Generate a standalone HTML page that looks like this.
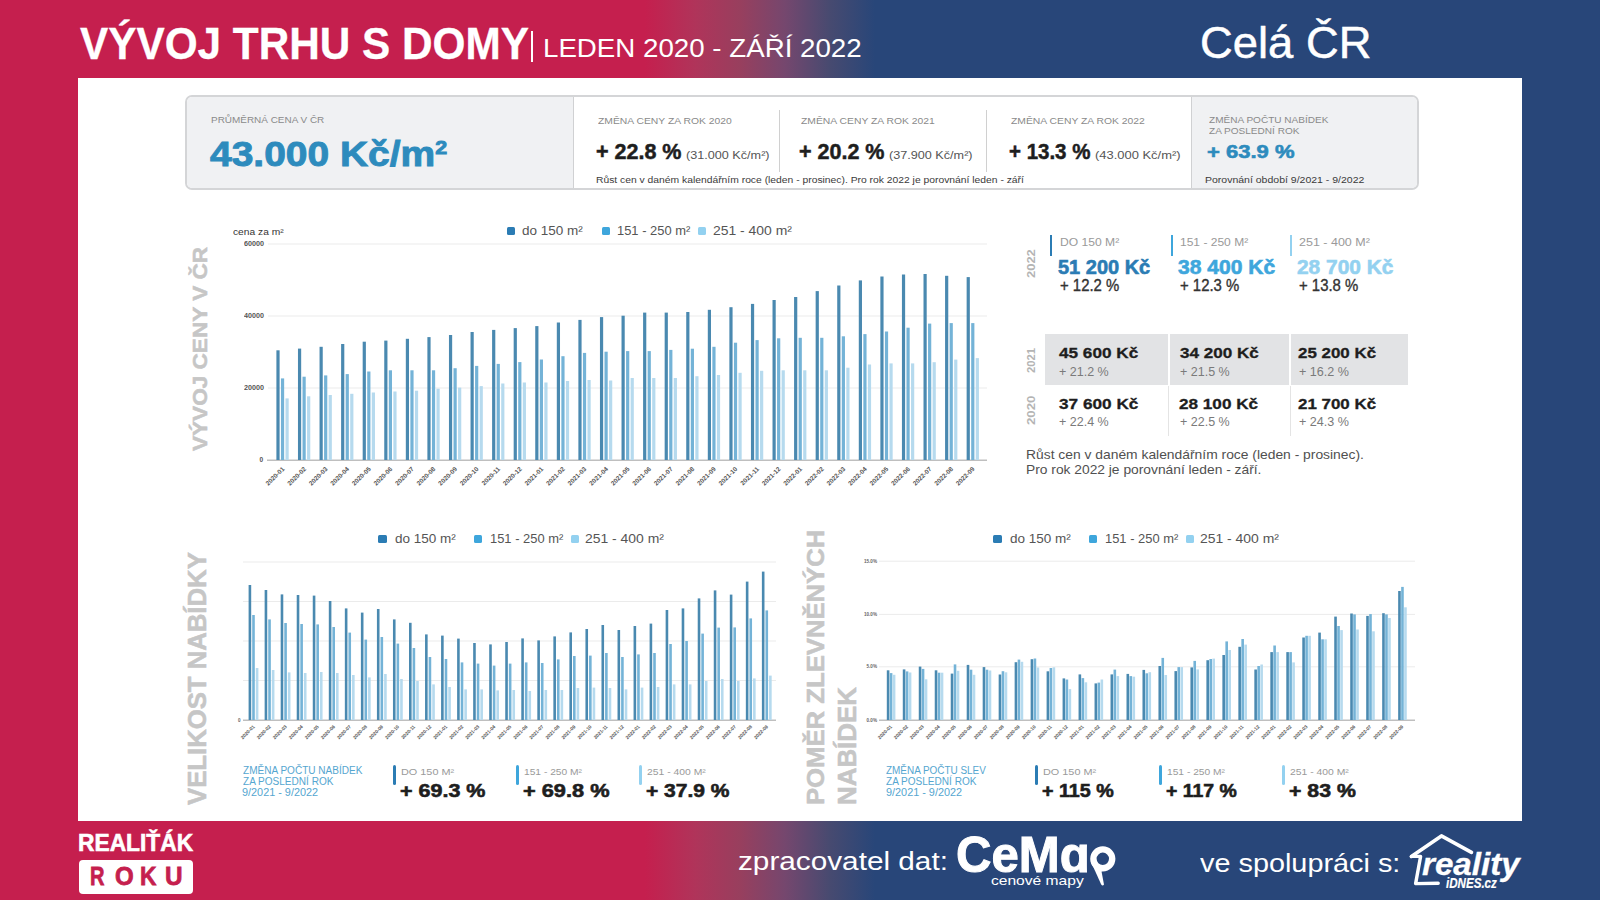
<!DOCTYPE html>
<html><head><meta charset="utf-8"><title>Vývoj trhu s domy</title>
<style>
*{margin:0;padding:0;box-sizing:border-box}
html,body{width:1600px;height:900px;overflow:hidden}
body{font-family:"Liberation Sans", sans-serif;background:linear-gradient(90deg,#c51f4e 0,#c51f4e 645px,#b0345a 695px,#983f5e 740px,#75476e 785px,#474a70 830px,#284679 875px,#284679 100%);position:relative}
.t{position:absolute;white-space:nowrap;line-height:1;transform-origin:0 0}
.rot{transform-origin:0 0}
.sup{font-size:0.55em;vertical-align:0.62em;line-height:0}
.a{position:absolute}
</style></head><body>
<div class="a" style="left:78px;top:78px;width:1444px;height:743px;background:#fff"></div>
<div class="a" style="left:531px;top:30.5px;width:1.6px;height:31.5px;background:#fff"></div>
<div class="a" style="left:185px;top:95.3px;width:1234px;height:94.9px;border:2px solid #d4d5d7;border-radius:7px;background:#fff;overflow:hidden">
  <div class="a" style="left:0;top:0;width:387px;height:100%;background:#f0f1f3;border-right:1.5px solid #d0d1d3"></div>
  <div class="a" style="left:1004px;top:0;right:0;height:100%;background:#f0f1f3;border-left:1.5px solid #d0d1d3"></div>
</div>
<div class="a" style="left:779px;top:110px;width:1.2px;height:62px;background:#d0d0d0"></div>
<div class="a" style="left:985.5px;top:110px;width:1.2px;height:62px;background:#d0d0d0"></div>
<svg width="1600" height="900" style="position:absolute;left:0;top:0" font-family="Liberation Sans, sans-serif"><rect x="268.00" y="243.50" width="719.00" height="1.00" fill="#ebebeb"/><rect x="268.00" y="315.50" width="719.00" height="1.00" fill="#ebebeb"/><rect x="268.00" y="387.50" width="719.00" height="1.00" fill="#ebebeb"/><rect x="267.00" y="459.60" width="720.00" height="1.20" fill="#b0b0b0"/><rect x="276.40" y="350.30" width="3.20" height="109.70" fill="#4a89b0"/><rect x="280.95" y="378.40" width="3.20" height="81.60" fill="#74b3d7"/><rect x="285.50" y="398.40" width="3.20" height="61.60" fill="#b6daee"/><rect x="297.97" y="348.60" width="3.20" height="111.40" fill="#4a89b0"/><rect x="302.52" y="376.70" width="3.20" height="83.30" fill="#74b3d7"/><rect x="307.07" y="396.30" width="3.20" height="63.70" fill="#b6daee"/><rect x="319.54" y="346.80" width="3.20" height="113.20" fill="#4a89b0"/><rect x="324.09" y="375.40" width="3.20" height="84.60" fill="#74b3d7"/><rect x="328.64" y="395.00" width="3.20" height="65.00" fill="#b6daee"/><rect x="341.11" y="344.00" width="3.20" height="116.00" fill="#4a89b0"/><rect x="345.66" y="374.10" width="3.20" height="85.90" fill="#74b3d7"/><rect x="350.21" y="393.80" width="3.20" height="66.20" fill="#b6daee"/><rect x="362.68" y="341.70" width="3.20" height="118.30" fill="#4a89b0"/><rect x="367.23" y="371.50" width="3.20" height="88.50" fill="#74b3d7"/><rect x="371.78" y="392.50" width="3.20" height="67.50" fill="#b6daee"/><rect x="384.25" y="340.60" width="3.20" height="119.40" fill="#4a89b0"/><rect x="388.80" y="370.30" width="3.20" height="89.70" fill="#74b3d7"/><rect x="393.35" y="391.50" width="3.20" height="68.50" fill="#b6daee"/><rect x="405.82" y="338.80" width="3.20" height="121.20" fill="#4a89b0"/><rect x="410.37" y="370.30" width="3.20" height="89.70" fill="#74b3d7"/><rect x="414.92" y="390.70" width="3.20" height="69.30" fill="#b6daee"/><rect x="427.39" y="337.10" width="3.20" height="122.90" fill="#4a89b0"/><rect x="431.94" y="370.30" width="3.20" height="89.70" fill="#74b3d7"/><rect x="436.49" y="388.70" width="3.20" height="71.30" fill="#b6daee"/><rect x="448.96" y="335.00" width="3.20" height="125.00" fill="#4a89b0"/><rect x="453.51" y="368.20" width="3.20" height="91.80" fill="#74b3d7"/><rect x="458.06" y="387.60" width="3.20" height="72.40" fill="#b6daee"/><rect x="470.53" y="332.00" width="3.20" height="128.00" fill="#4a89b0"/><rect x="475.08" y="365.90" width="3.20" height="94.10" fill="#74b3d7"/><rect x="479.63" y="386.10" width="3.20" height="73.90" fill="#b6daee"/><rect x="492.10" y="329.90" width="3.20" height="130.10" fill="#4a89b0"/><rect x="496.65" y="363.90" width="3.20" height="96.10" fill="#74b3d7"/><rect x="501.20" y="383.50" width="3.20" height="76.50" fill="#b6daee"/><rect x="513.67" y="328.10" width="3.20" height="131.90" fill="#4a89b0"/><rect x="518.22" y="362.10" width="3.20" height="97.90" fill="#74b3d7"/><rect x="522.77" y="382.50" width="3.20" height="77.50" fill="#b6daee"/><rect x="535.24" y="326.10" width="3.20" height="133.90" fill="#4a89b0"/><rect x="539.79" y="359.50" width="3.20" height="100.50" fill="#74b3d7"/><rect x="544.34" y="382.50" width="3.20" height="77.50" fill="#b6daee"/><rect x="556.81" y="322.50" width="3.20" height="137.50" fill="#4a89b0"/><rect x="561.36" y="356.20" width="3.20" height="103.80" fill="#74b3d7"/><rect x="565.91" y="381.00" width="3.20" height="79.00" fill="#b6daee"/><rect x="578.38" y="319.90" width="3.20" height="140.10" fill="#4a89b0"/><rect x="582.93" y="352.90" width="3.20" height="107.10" fill="#74b3d7"/><rect x="587.48" y="380.00" width="3.20" height="80.00" fill="#b6daee"/><rect x="599.95" y="317.10" width="3.20" height="142.90" fill="#4a89b0"/><rect x="604.50" y="351.70" width="3.20" height="108.30" fill="#74b3d7"/><rect x="609.05" y="380.50" width="3.20" height="79.50" fill="#b6daee"/><rect x="621.52" y="315.70" width="3.20" height="144.30" fill="#4a89b0"/><rect x="626.07" y="351.10" width="3.20" height="108.90" fill="#74b3d7"/><rect x="630.62" y="378.00" width="3.20" height="82.00" fill="#b6daee"/><rect x="643.09" y="312.60" width="3.20" height="147.40" fill="#4a89b0"/><rect x="647.64" y="351.10" width="3.20" height="108.90" fill="#74b3d7"/><rect x="652.19" y="378.00" width="3.20" height="82.00" fill="#b6daee"/><rect x="664.66" y="312.60" width="3.20" height="147.40" fill="#4a89b0"/><rect x="669.21" y="349.90" width="3.20" height="110.10" fill="#74b3d7"/><rect x="673.76" y="378.00" width="3.20" height="82.00" fill="#b6daee"/><rect x="686.23" y="312.00" width="3.20" height="148.00" fill="#4a89b0"/><rect x="690.78" y="348.70" width="3.20" height="111.30" fill="#74b3d7"/><rect x="695.33" y="376.20" width="3.20" height="83.80" fill="#b6daee"/><rect x="707.80" y="309.80" width="3.20" height="150.20" fill="#4a89b0"/><rect x="712.35" y="346.80" width="3.20" height="113.20" fill="#74b3d7"/><rect x="716.90" y="375.00" width="3.20" height="85.00" fill="#b6daee"/><rect x="729.37" y="307.20" width="3.20" height="152.80" fill="#4a89b0"/><rect x="733.92" y="342.70" width="3.20" height="117.30" fill="#74b3d7"/><rect x="738.47" y="372.80" width="3.20" height="87.20" fill="#b6daee"/><rect x="750.94" y="303.90" width="3.20" height="156.10" fill="#4a89b0"/><rect x="755.49" y="340.10" width="3.20" height="119.90" fill="#74b3d7"/><rect x="760.04" y="370.80" width="3.20" height="89.20" fill="#b6daee"/><rect x="772.51" y="300.00" width="3.20" height="160.00" fill="#4a89b0"/><rect x="777.06" y="338.30" width="3.20" height="121.70" fill="#74b3d7"/><rect x="781.61" y="370.30" width="3.20" height="89.70" fill="#b6daee"/><rect x="794.08" y="297.00" width="3.20" height="163.00" fill="#4a89b0"/><rect x="798.63" y="337.80" width="3.20" height="122.20" fill="#74b3d7"/><rect x="803.18" y="370.30" width="3.20" height="89.70" fill="#b6daee"/><rect x="815.65" y="291.10" width="3.20" height="168.90" fill="#4a89b0"/><rect x="820.20" y="337.80" width="3.20" height="122.20" fill="#74b3d7"/><rect x="824.75" y="370.30" width="3.20" height="89.70" fill="#b6daee"/><rect x="837.22" y="285.50" width="3.20" height="174.50" fill="#4a89b0"/><rect x="841.77" y="336.30" width="3.20" height="123.70" fill="#74b3d7"/><rect x="846.32" y="367.70" width="3.20" height="92.30" fill="#b6daee"/><rect x="858.79" y="280.40" width="3.20" height="179.60" fill="#4a89b0"/><rect x="863.34" y="334.10" width="3.20" height="125.90" fill="#74b3d7"/><rect x="867.89" y="364.50" width="3.20" height="95.50" fill="#b6daee"/><rect x="880.36" y="276.50" width="3.20" height="183.50" fill="#4a89b0"/><rect x="884.91" y="331.50" width="3.20" height="128.50" fill="#74b3d7"/><rect x="889.46" y="363.40" width="3.20" height="96.60" fill="#b6daee"/><rect x="901.93" y="274.50" width="3.20" height="185.50" fill="#4a89b0"/><rect x="906.48" y="327.70" width="3.20" height="132.30" fill="#74b3d7"/><rect x="911.03" y="363.40" width="3.20" height="96.60" fill="#b6daee"/><rect x="923.50" y="274.00" width="3.20" height="186.00" fill="#4a89b0"/><rect x="928.05" y="323.60" width="3.20" height="136.40" fill="#74b3d7"/><rect x="932.60" y="362.20" width="3.20" height="97.80" fill="#b6daee"/><rect x="945.07" y="275.80" width="3.20" height="184.20" fill="#4a89b0"/><rect x="949.62" y="323.10" width="3.20" height="136.90" fill="#74b3d7"/><rect x="954.17" y="359.60" width="3.20" height="100.40" fill="#b6daee"/><rect x="966.64" y="277.10" width="3.20" height="182.90" fill="#4a89b0"/><rect x="971.19" y="323.10" width="3.20" height="136.90" fill="#74b3d7"/><rect x="975.74" y="358.10" width="3.20" height="101.90" fill="#b6daee"/><rect x="243.00" y="561.50" width="533.00" height="1.00" fill="#ebebeb"/><rect x="243.00" y="601.00" width="533.00" height="1.00" fill="#ebebeb"/><rect x="243.00" y="640.50" width="533.00" height="1.00" fill="#ebebeb"/><rect x="243.00" y="680.00" width="533.00" height="1.00" fill="#ebebeb"/><rect x="243.00" y="719.60" width="533.00" height="1.20" fill="#b0b0b0"/><rect x="248.60" y="585.00" width="2.60" height="135.00" fill="#4a89b0"/><rect x="252.20" y="615.00" width="2.60" height="105.00" fill="#74b3d7"/><rect x="255.80" y="668.00" width="2.60" height="52.00" fill="#b6daee"/><rect x="264.64" y="590.00" width="2.60" height="130.00" fill="#4a89b0"/><rect x="268.24" y="619.40" width="2.60" height="100.60" fill="#74b3d7"/><rect x="271.84" y="670.00" width="2.60" height="50.00" fill="#b6daee"/><rect x="280.68" y="594.40" width="2.60" height="125.60" fill="#4a89b0"/><rect x="284.28" y="623.00" width="2.60" height="97.00" fill="#74b3d7"/><rect x="287.88" y="672.40" width="2.60" height="47.60" fill="#b6daee"/><rect x="296.72" y="595.00" width="2.60" height="125.00" fill="#4a89b0"/><rect x="300.32" y="624.00" width="2.60" height="96.00" fill="#74b3d7"/><rect x="303.92" y="673.00" width="2.60" height="47.00" fill="#b6daee"/><rect x="312.76" y="595.60" width="2.60" height="124.40" fill="#4a89b0"/><rect x="316.36" y="624.40" width="2.60" height="95.60" fill="#74b3d7"/><rect x="319.96" y="672.00" width="2.60" height="48.00" fill="#b6daee"/><rect x="328.80" y="601.00" width="2.60" height="119.00" fill="#4a89b0"/><rect x="332.40" y="627.00" width="2.60" height="93.00" fill="#74b3d7"/><rect x="336.00" y="673.00" width="2.60" height="47.00" fill="#b6daee"/><rect x="344.84" y="608.40" width="2.60" height="111.60" fill="#4a89b0"/><rect x="348.44" y="632.60" width="2.60" height="87.40" fill="#74b3d7"/><rect x="352.04" y="675.00" width="2.60" height="45.00" fill="#b6daee"/><rect x="360.88" y="612.60" width="2.60" height="107.40" fill="#4a89b0"/><rect x="364.48" y="639.60" width="2.60" height="80.40" fill="#74b3d7"/><rect x="368.08" y="677.40" width="2.60" height="42.60" fill="#b6daee"/><rect x="376.92" y="609.00" width="2.60" height="111.00" fill="#4a89b0"/><rect x="380.52" y="637.00" width="2.60" height="83.00" fill="#74b3d7"/><rect x="384.12" y="674.00" width="2.60" height="46.00" fill="#b6daee"/><rect x="392.96" y="619.40" width="2.60" height="100.60" fill="#4a89b0"/><rect x="396.56" y="643.60" width="2.60" height="76.40" fill="#74b3d7"/><rect x="400.16" y="679.00" width="2.60" height="41.00" fill="#b6daee"/><rect x="409.00" y="622.80" width="2.60" height="97.20" fill="#4a89b0"/><rect x="412.60" y="648.00" width="2.60" height="72.00" fill="#74b3d7"/><rect x="416.20" y="681.00" width="2.60" height="39.00" fill="#b6daee"/><rect x="425.04" y="634.40" width="2.60" height="85.60" fill="#4a89b0"/><rect x="428.64" y="657.00" width="2.60" height="63.00" fill="#74b3d7"/><rect x="432.24" y="684.40" width="2.60" height="35.60" fill="#b6daee"/><rect x="441.08" y="635.60" width="2.60" height="84.40" fill="#4a89b0"/><rect x="444.68" y="659.00" width="2.60" height="61.00" fill="#74b3d7"/><rect x="448.28" y="687.00" width="2.60" height="33.00" fill="#b6daee"/><rect x="457.12" y="638.60" width="2.60" height="81.40" fill="#4a89b0"/><rect x="460.72" y="662.40" width="2.60" height="57.60" fill="#74b3d7"/><rect x="464.32" y="689.40" width="2.60" height="30.60" fill="#b6daee"/><rect x="473.16" y="643.00" width="2.60" height="77.00" fill="#4a89b0"/><rect x="476.76" y="663.60" width="2.60" height="56.40" fill="#74b3d7"/><rect x="480.36" y="689.40" width="2.60" height="30.60" fill="#b6daee"/><rect x="489.20" y="644.40" width="2.60" height="75.60" fill="#4a89b0"/><rect x="492.80" y="665.60" width="2.60" height="54.40" fill="#74b3d7"/><rect x="496.40" y="690.40" width="2.60" height="29.60" fill="#b6daee"/><rect x="505.24" y="642.00" width="2.60" height="78.00" fill="#4a89b0"/><rect x="508.84" y="663.60" width="2.60" height="56.40" fill="#74b3d7"/><rect x="512.44" y="690.00" width="2.60" height="30.00" fill="#b6daee"/><rect x="521.28" y="638.40" width="2.60" height="81.60" fill="#4a89b0"/><rect x="524.88" y="662.40" width="2.60" height="57.60" fill="#74b3d7"/><rect x="528.48" y="691.00" width="2.60" height="29.00" fill="#b6daee"/><rect x="537.32" y="640.40" width="2.60" height="79.60" fill="#4a89b0"/><rect x="540.92" y="663.00" width="2.60" height="57.00" fill="#74b3d7"/><rect x="544.52" y="690.00" width="2.60" height="30.00" fill="#b6daee"/><rect x="553.36" y="636.40" width="2.60" height="83.60" fill="#4a89b0"/><rect x="556.96" y="659.40" width="2.60" height="60.60" fill="#74b3d7"/><rect x="560.56" y="690.00" width="2.60" height="30.00" fill="#b6daee"/><rect x="569.40" y="632.40" width="2.60" height="87.60" fill="#4a89b0"/><rect x="573.00" y="656.00" width="2.60" height="64.00" fill="#74b3d7"/><rect x="576.60" y="688.00" width="2.60" height="32.00" fill="#b6daee"/><rect x="585.44" y="629.00" width="2.60" height="91.00" fill="#4a89b0"/><rect x="589.04" y="655.60" width="2.60" height="64.40" fill="#74b3d7"/><rect x="592.64" y="687.60" width="2.60" height="32.40" fill="#b6daee"/><rect x="601.48" y="625.00" width="2.60" height="95.00" fill="#4a89b0"/><rect x="605.08" y="653.00" width="2.60" height="67.00" fill="#74b3d7"/><rect x="608.68" y="688.00" width="2.60" height="32.00" fill="#b6daee"/><rect x="617.52" y="630.00" width="2.60" height="90.00" fill="#4a89b0"/><rect x="621.12" y="657.00" width="2.60" height="63.00" fill="#74b3d7"/><rect x="624.72" y="689.40" width="2.60" height="30.60" fill="#b6daee"/><rect x="633.56" y="626.00" width="2.60" height="94.00" fill="#4a89b0"/><rect x="637.16" y="654.40" width="2.60" height="65.60" fill="#74b3d7"/><rect x="640.76" y="687.60" width="2.60" height="32.40" fill="#b6daee"/><rect x="649.60" y="623.60" width="2.60" height="96.40" fill="#4a89b0"/><rect x="653.20" y="653.00" width="2.60" height="67.00" fill="#74b3d7"/><rect x="656.80" y="687.00" width="2.60" height="33.00" fill="#b6daee"/><rect x="665.64" y="610.00" width="2.60" height="110.00" fill="#4a89b0"/><rect x="669.24" y="644.00" width="2.60" height="76.00" fill="#74b3d7"/><rect x="672.84" y="684.40" width="2.60" height="35.60" fill="#b6daee"/><rect x="681.68" y="608.40" width="2.60" height="111.60" fill="#4a89b0"/><rect x="685.28" y="641.00" width="2.60" height="79.00" fill="#74b3d7"/><rect x="688.88" y="684.40" width="2.60" height="35.60" fill="#b6daee"/><rect x="697.72" y="598.40" width="2.60" height="121.60" fill="#4a89b0"/><rect x="701.32" y="633.60" width="2.60" height="86.40" fill="#74b3d7"/><rect x="704.92" y="681.00" width="2.60" height="39.00" fill="#b6daee"/><rect x="713.76" y="590.40" width="2.60" height="129.60" fill="#4a89b0"/><rect x="717.36" y="627.60" width="2.60" height="92.40" fill="#74b3d7"/><rect x="720.96" y="679.00" width="2.60" height="41.00" fill="#b6daee"/><rect x="729.80" y="594.60" width="2.60" height="125.40" fill="#4a89b0"/><rect x="733.40" y="627.40" width="2.60" height="92.60" fill="#74b3d7"/><rect x="737.00" y="681.00" width="2.60" height="39.00" fill="#b6daee"/><rect x="745.84" y="581.60" width="2.60" height="138.40" fill="#4a89b0"/><rect x="749.44" y="618.40" width="2.60" height="101.60" fill="#74b3d7"/><rect x="753.04" y="678.40" width="2.60" height="41.60" fill="#b6daee"/><rect x="761.88" y="571.60" width="2.60" height="148.40" fill="#4a89b0"/><rect x="765.48" y="610.40" width="2.60" height="109.60" fill="#74b3d7"/><rect x="769.08" y="675.60" width="2.60" height="44.40" fill="#b6daee"/><rect x="879.00" y="560.70" width="536.00" height="1.00" fill="#ebebeb"/><rect x="879.00" y="613.90" width="536.00" height="1.00" fill="#ebebeb"/><rect x="879.00" y="666.30" width="536.00" height="1.00" fill="#ebebeb"/><rect x="879.00" y="719.60" width="536.00" height="1.20" fill="#b0b0b0"/><rect x="886.80" y="670.30" width="2.60" height="49.70" fill="#4a89b0"/><rect x="889.80" y="673.10" width="2.60" height="46.90" fill="#74b3d7"/><rect x="892.80" y="674.80" width="2.60" height="45.20" fill="#b6daee"/><rect x="902.78" y="669.40" width="2.60" height="50.60" fill="#4a89b0"/><rect x="905.78" y="671.40" width="2.60" height="48.60" fill="#74b3d7"/><rect x="908.78" y="672.50" width="2.60" height="47.50" fill="#b6daee"/><rect x="918.76" y="666.60" width="2.60" height="53.40" fill="#4a89b0"/><rect x="921.76" y="668.90" width="2.60" height="51.10" fill="#74b3d7"/><rect x="924.76" y="679.30" width="2.60" height="40.70" fill="#b6daee"/><rect x="934.74" y="670.30" width="2.60" height="49.70" fill="#4a89b0"/><rect x="937.74" y="672.70" width="2.60" height="47.30" fill="#74b3d7"/><rect x="940.74" y="672.70" width="2.60" height="47.30" fill="#b6daee"/><rect x="950.72" y="673.60" width="2.60" height="46.40" fill="#4a89b0"/><rect x="953.72" y="664.40" width="2.60" height="55.60" fill="#74b3d7"/><rect x="956.72" y="670.80" width="2.60" height="49.20" fill="#b6daee"/><rect x="966.70" y="664.90" width="2.60" height="55.10" fill="#4a89b0"/><rect x="969.70" y="669.70" width="2.60" height="50.30" fill="#74b3d7"/><rect x="972.70" y="674.80" width="2.60" height="45.20" fill="#b6daee"/><rect x="982.68" y="667.10" width="2.60" height="52.90" fill="#4a89b0"/><rect x="985.68" y="669.70" width="2.60" height="50.30" fill="#74b3d7"/><rect x="988.68" y="670.50" width="2.60" height="49.50" fill="#b6daee"/><rect x="998.66" y="674.50" width="2.60" height="45.50" fill="#4a89b0"/><rect x="1001.66" y="671.20" width="2.60" height="48.80" fill="#74b3d7"/><rect x="1004.66" y="672.30" width="2.60" height="47.70" fill="#b6daee"/><rect x="1014.64" y="662.20" width="2.60" height="57.80" fill="#4a89b0"/><rect x="1017.64" y="659.60" width="2.60" height="60.40" fill="#74b3d7"/><rect x="1020.64" y="661.80" width="2.60" height="58.20" fill="#b6daee"/><rect x="1030.62" y="659.20" width="2.60" height="60.80" fill="#4a89b0"/><rect x="1033.62" y="658.50" width="2.60" height="61.50" fill="#74b3d7"/><rect x="1036.62" y="667.50" width="2.60" height="52.50" fill="#b6daee"/><rect x="1046.60" y="671.30" width="2.60" height="48.70" fill="#4a89b0"/><rect x="1049.60" y="668.00" width="2.60" height="52.00" fill="#74b3d7"/><rect x="1052.60" y="667.30" width="2.60" height="52.70" fill="#b6daee"/><rect x="1062.58" y="678.40" width="2.60" height="41.60" fill="#4a89b0"/><rect x="1065.58" y="679.50" width="2.60" height="40.50" fill="#74b3d7"/><rect x="1068.58" y="689.10" width="2.60" height="30.90" fill="#b6daee"/><rect x="1078.56" y="674.40" width="2.60" height="45.60" fill="#4a89b0"/><rect x="1081.56" y="678.10" width="2.60" height="41.90" fill="#74b3d7"/><rect x="1084.56" y="682.30" width="2.60" height="37.70" fill="#b6daee"/><rect x="1094.54" y="683.40" width="2.60" height="36.60" fill="#4a89b0"/><rect x="1097.54" y="682.60" width="2.60" height="37.40" fill="#74b3d7"/><rect x="1100.54" y="679.50" width="2.60" height="40.50" fill="#b6daee"/><rect x="1110.52" y="674.40" width="2.60" height="45.60" fill="#4a89b0"/><rect x="1113.52" y="669.60" width="2.60" height="50.40" fill="#74b3d7"/><rect x="1116.52" y="676.10" width="2.60" height="43.90" fill="#b6daee"/><rect x="1126.50" y="673.90" width="2.60" height="46.10" fill="#4a89b0"/><rect x="1129.50" y="676.10" width="2.60" height="43.90" fill="#74b3d7"/><rect x="1132.50" y="676.70" width="2.60" height="43.30" fill="#b6daee"/><rect x="1142.48" y="669.90" width="2.60" height="50.10" fill="#4a89b0"/><rect x="1145.48" y="673.30" width="2.60" height="46.70" fill="#74b3d7"/><rect x="1148.48" y="672.20" width="2.60" height="47.80" fill="#b6daee"/><rect x="1158.46" y="666.00" width="2.60" height="54.00" fill="#4a89b0"/><rect x="1161.46" y="657.90" width="2.60" height="62.10" fill="#74b3d7"/><rect x="1164.46" y="675.00" width="2.60" height="45.00" fill="#b6daee"/><rect x="1174.44" y="671.10" width="2.60" height="48.90" fill="#4a89b0"/><rect x="1177.44" y="667.10" width="2.60" height="52.90" fill="#74b3d7"/><rect x="1180.44" y="667.10" width="2.60" height="52.90" fill="#b6daee"/><rect x="1190.42" y="667.40" width="2.60" height="52.60" fill="#4a89b0"/><rect x="1193.42" y="660.90" width="2.60" height="59.10" fill="#74b3d7"/><rect x="1196.42" y="669.40" width="2.60" height="50.60" fill="#b6daee"/><rect x="1206.40" y="660.20" width="2.60" height="59.80" fill="#4a89b0"/><rect x="1209.40" y="659.00" width="2.60" height="61.00" fill="#74b3d7"/><rect x="1212.40" y="658.60" width="2.60" height="61.40" fill="#b6daee"/><rect x="1222.38" y="655.00" width="2.60" height="65.00" fill="#4a89b0"/><rect x="1225.38" y="641.40" width="2.60" height="78.60" fill="#74b3d7"/><rect x="1228.38" y="650.00" width="2.60" height="70.00" fill="#b6daee"/><rect x="1238.36" y="646.80" width="2.60" height="73.20" fill="#4a89b0"/><rect x="1241.36" y="639.00" width="2.60" height="81.00" fill="#74b3d7"/><rect x="1244.36" y="644.60" width="2.60" height="75.40" fill="#b6daee"/><rect x="1254.34" y="669.50" width="2.60" height="50.50" fill="#4a89b0"/><rect x="1257.34" y="666.00" width="2.60" height="54.00" fill="#74b3d7"/><rect x="1260.34" y="664.50" width="2.60" height="55.50" fill="#b6daee"/><rect x="1270.32" y="652.10" width="2.60" height="67.90" fill="#4a89b0"/><rect x="1273.32" y="645.50" width="2.60" height="74.50" fill="#74b3d7"/><rect x="1276.32" y="652.10" width="2.60" height="67.90" fill="#b6daee"/><rect x="1286.30" y="652.10" width="2.60" height="67.90" fill="#4a89b0"/><rect x="1289.30" y="652.10" width="2.60" height="67.90" fill="#74b3d7"/><rect x="1292.30" y="662.40" width="2.60" height="57.60" fill="#b6daee"/><rect x="1302.28" y="637.50" width="2.60" height="82.50" fill="#4a89b0"/><rect x="1305.28" y="635.80" width="2.60" height="84.20" fill="#74b3d7"/><rect x="1308.28" y="635.80" width="2.60" height="84.20" fill="#b6daee"/><rect x="1318.26" y="632.60" width="2.60" height="87.40" fill="#4a89b0"/><rect x="1321.26" y="639.30" width="2.60" height="80.70" fill="#74b3d7"/><rect x="1324.26" y="639.30" width="2.60" height="80.70" fill="#b6daee"/><rect x="1334.24" y="616.60" width="2.60" height="103.40" fill="#4a89b0"/><rect x="1337.24" y="626.00" width="2.60" height="94.00" fill="#74b3d7"/><rect x="1340.24" y="630.10" width="2.60" height="89.90" fill="#b6daee"/><rect x="1350.22" y="613.50" width="2.60" height="106.50" fill="#4a89b0"/><rect x="1353.22" y="614.40" width="2.60" height="105.60" fill="#74b3d7"/><rect x="1356.22" y="629.50" width="2.60" height="90.50" fill="#b6daee"/><rect x="1366.20" y="615.90" width="2.60" height="104.10" fill="#4a89b0"/><rect x="1369.20" y="614.10" width="2.60" height="105.90" fill="#74b3d7"/><rect x="1372.20" y="631.30" width="2.60" height="88.70" fill="#b6daee"/><rect x="1382.18" y="613.20" width="2.60" height="106.80" fill="#4a89b0"/><rect x="1385.18" y="614.40" width="2.60" height="105.60" fill="#74b3d7"/><rect x="1388.18" y="618.00" width="2.60" height="102.00" fill="#b6daee"/><rect x="1398.16" y="591.00" width="2.60" height="129.00" fill="#4a89b0"/><rect x="1401.16" y="586.90" width="2.60" height="133.10" fill="#74b3d7"/><rect x="1404.16" y="607.30" width="2.60" height="112.70" fill="#b6daee"/><text x="0" y="0" transform="translate(284.90,469.5) rotate(-45)" text-anchor="end" font-size="6.4" font-weight="bold" fill="#555">2020-01</text><text x="0" y="0" transform="translate(306.47,469.5) rotate(-45)" text-anchor="end" font-size="6.4" font-weight="bold" fill="#555">2020-02</text><text x="0" y="0" transform="translate(328.04,469.5) rotate(-45)" text-anchor="end" font-size="6.4" font-weight="bold" fill="#555">2020-03</text><text x="0" y="0" transform="translate(349.61,469.5) rotate(-45)" text-anchor="end" font-size="6.4" font-weight="bold" fill="#555">2020-04</text><text x="0" y="0" transform="translate(371.18,469.5) rotate(-45)" text-anchor="end" font-size="6.4" font-weight="bold" fill="#555">2020-05</text><text x="0" y="0" transform="translate(392.75,469.5) rotate(-45)" text-anchor="end" font-size="6.4" font-weight="bold" fill="#555">2020-06</text><text x="0" y="0" transform="translate(414.32,469.5) rotate(-45)" text-anchor="end" font-size="6.4" font-weight="bold" fill="#555">2020-07</text><text x="0" y="0" transform="translate(435.89,469.5) rotate(-45)" text-anchor="end" font-size="6.4" font-weight="bold" fill="#555">2020-08</text><text x="0" y="0" transform="translate(457.46,469.5) rotate(-45)" text-anchor="end" font-size="6.4" font-weight="bold" fill="#555">2020-09</text><text x="0" y="0" transform="translate(479.03,469.5) rotate(-45)" text-anchor="end" font-size="6.4" font-weight="bold" fill="#555">2020-10</text><text x="0" y="0" transform="translate(500.60,469.5) rotate(-45)" text-anchor="end" font-size="6.4" font-weight="bold" fill="#555">2020-11</text><text x="0" y="0" transform="translate(522.17,469.5) rotate(-45)" text-anchor="end" font-size="6.4" font-weight="bold" fill="#555">2020-12</text><text x="0" y="0" transform="translate(543.74,469.5) rotate(-45)" text-anchor="end" font-size="6.4" font-weight="bold" fill="#555">2021-01</text><text x="0" y="0" transform="translate(565.31,469.5) rotate(-45)" text-anchor="end" font-size="6.4" font-weight="bold" fill="#555">2021-02</text><text x="0" y="0" transform="translate(586.88,469.5) rotate(-45)" text-anchor="end" font-size="6.4" font-weight="bold" fill="#555">2021-03</text><text x="0" y="0" transform="translate(608.45,469.5) rotate(-45)" text-anchor="end" font-size="6.4" font-weight="bold" fill="#555">2021-04</text><text x="0" y="0" transform="translate(630.02,469.5) rotate(-45)" text-anchor="end" font-size="6.4" font-weight="bold" fill="#555">2021-05</text><text x="0" y="0" transform="translate(651.59,469.5) rotate(-45)" text-anchor="end" font-size="6.4" font-weight="bold" fill="#555">2021-06</text><text x="0" y="0" transform="translate(673.16,469.5) rotate(-45)" text-anchor="end" font-size="6.4" font-weight="bold" fill="#555">2021-07</text><text x="0" y="0" transform="translate(694.73,469.5) rotate(-45)" text-anchor="end" font-size="6.4" font-weight="bold" fill="#555">2021-08</text><text x="0" y="0" transform="translate(716.30,469.5) rotate(-45)" text-anchor="end" font-size="6.4" font-weight="bold" fill="#555">2021-09</text><text x="0" y="0" transform="translate(737.87,469.5) rotate(-45)" text-anchor="end" font-size="6.4" font-weight="bold" fill="#555">2021-10</text><text x="0" y="0" transform="translate(759.44,469.5) rotate(-45)" text-anchor="end" font-size="6.4" font-weight="bold" fill="#555">2021-11</text><text x="0" y="0" transform="translate(781.01,469.5) rotate(-45)" text-anchor="end" font-size="6.4" font-weight="bold" fill="#555">2021-12</text><text x="0" y="0" transform="translate(802.58,469.5) rotate(-45)" text-anchor="end" font-size="6.4" font-weight="bold" fill="#555">2022-01</text><text x="0" y="0" transform="translate(824.15,469.5) rotate(-45)" text-anchor="end" font-size="6.4" font-weight="bold" fill="#555">2022-02</text><text x="0" y="0" transform="translate(845.72,469.5) rotate(-45)" text-anchor="end" font-size="6.4" font-weight="bold" fill="#555">2022-03</text><text x="0" y="0" transform="translate(867.29,469.5) rotate(-45)" text-anchor="end" font-size="6.4" font-weight="bold" fill="#555">2022-04</text><text x="0" y="0" transform="translate(888.86,469.5) rotate(-45)" text-anchor="end" font-size="6.4" font-weight="bold" fill="#555">2022-05</text><text x="0" y="0" transform="translate(910.43,469.5) rotate(-45)" text-anchor="end" font-size="6.4" font-weight="bold" fill="#555">2022-06</text><text x="0" y="0" transform="translate(932.00,469.5) rotate(-45)" text-anchor="end" font-size="6.4" font-weight="bold" fill="#555">2022-07</text><text x="0" y="0" transform="translate(953.57,469.5) rotate(-45)" text-anchor="end" font-size="6.4" font-weight="bold" fill="#555">2022-08</text><text x="0" y="0" transform="translate(975.14,469.5) rotate(-45)" text-anchor="end" font-size="6.4" font-weight="bold" fill="#555">2022-09</text><text x="0" y="0" transform="translate(255.10,727) rotate(-45)" text-anchor="end" font-size="4.8" font-weight="bold" fill="#555">2020-01</text><text x="0" y="0" transform="translate(271.14,727) rotate(-45)" text-anchor="end" font-size="4.8" font-weight="bold" fill="#555">2020-02</text><text x="0" y="0" transform="translate(287.18,727) rotate(-45)" text-anchor="end" font-size="4.8" font-weight="bold" fill="#555">2020-03</text><text x="0" y="0" transform="translate(303.22,727) rotate(-45)" text-anchor="end" font-size="4.8" font-weight="bold" fill="#555">2020-04</text><text x="0" y="0" transform="translate(319.26,727) rotate(-45)" text-anchor="end" font-size="4.8" font-weight="bold" fill="#555">2020-05</text><text x="0" y="0" transform="translate(335.30,727) rotate(-45)" text-anchor="end" font-size="4.8" font-weight="bold" fill="#555">2020-06</text><text x="0" y="0" transform="translate(351.34,727) rotate(-45)" text-anchor="end" font-size="4.8" font-weight="bold" fill="#555">2020-07</text><text x="0" y="0" transform="translate(367.38,727) rotate(-45)" text-anchor="end" font-size="4.8" font-weight="bold" fill="#555">2020-08</text><text x="0" y="0" transform="translate(383.42,727) rotate(-45)" text-anchor="end" font-size="4.8" font-weight="bold" fill="#555">2020-09</text><text x="0" y="0" transform="translate(399.46,727) rotate(-45)" text-anchor="end" font-size="4.8" font-weight="bold" fill="#555">2020-10</text><text x="0" y="0" transform="translate(415.50,727) rotate(-45)" text-anchor="end" font-size="4.8" font-weight="bold" fill="#555">2020-11</text><text x="0" y="0" transform="translate(431.54,727) rotate(-45)" text-anchor="end" font-size="4.8" font-weight="bold" fill="#555">2020-12</text><text x="0" y="0" transform="translate(447.58,727) rotate(-45)" text-anchor="end" font-size="4.8" font-weight="bold" fill="#555">2021-01</text><text x="0" y="0" transform="translate(463.62,727) rotate(-45)" text-anchor="end" font-size="4.8" font-weight="bold" fill="#555">2021-02</text><text x="0" y="0" transform="translate(479.66,727) rotate(-45)" text-anchor="end" font-size="4.8" font-weight="bold" fill="#555">2021-03</text><text x="0" y="0" transform="translate(495.70,727) rotate(-45)" text-anchor="end" font-size="4.8" font-weight="bold" fill="#555">2021-04</text><text x="0" y="0" transform="translate(511.74,727) rotate(-45)" text-anchor="end" font-size="4.8" font-weight="bold" fill="#555">2021-05</text><text x="0" y="0" transform="translate(527.78,727) rotate(-45)" text-anchor="end" font-size="4.8" font-weight="bold" fill="#555">2021-06</text><text x="0" y="0" transform="translate(543.82,727) rotate(-45)" text-anchor="end" font-size="4.8" font-weight="bold" fill="#555">2021-07</text><text x="0" y="0" transform="translate(559.86,727) rotate(-45)" text-anchor="end" font-size="4.8" font-weight="bold" fill="#555">2021-08</text><text x="0" y="0" transform="translate(575.90,727) rotate(-45)" text-anchor="end" font-size="4.8" font-weight="bold" fill="#555">2021-09</text><text x="0" y="0" transform="translate(591.94,727) rotate(-45)" text-anchor="end" font-size="4.8" font-weight="bold" fill="#555">2021-10</text><text x="0" y="0" transform="translate(607.98,727) rotate(-45)" text-anchor="end" font-size="4.8" font-weight="bold" fill="#555">2021-11</text><text x="0" y="0" transform="translate(624.02,727) rotate(-45)" text-anchor="end" font-size="4.8" font-weight="bold" fill="#555">2021-12</text><text x="0" y="0" transform="translate(640.06,727) rotate(-45)" text-anchor="end" font-size="4.8" font-weight="bold" fill="#555">2022-01</text><text x="0" y="0" transform="translate(656.10,727) rotate(-45)" text-anchor="end" font-size="4.8" font-weight="bold" fill="#555">2022-02</text><text x="0" y="0" transform="translate(672.14,727) rotate(-45)" text-anchor="end" font-size="4.8" font-weight="bold" fill="#555">2022-03</text><text x="0" y="0" transform="translate(688.18,727) rotate(-45)" text-anchor="end" font-size="4.8" font-weight="bold" fill="#555">2022-04</text><text x="0" y="0" transform="translate(704.22,727) rotate(-45)" text-anchor="end" font-size="4.8" font-weight="bold" fill="#555">2022-05</text><text x="0" y="0" transform="translate(720.26,727) rotate(-45)" text-anchor="end" font-size="4.8" font-weight="bold" fill="#555">2022-06</text><text x="0" y="0" transform="translate(736.30,727) rotate(-45)" text-anchor="end" font-size="4.8" font-weight="bold" fill="#555">2022-07</text><text x="0" y="0" transform="translate(752.34,727) rotate(-45)" text-anchor="end" font-size="4.8" font-weight="bold" fill="#555">2022-08</text><text x="0" y="0" transform="translate(768.38,727) rotate(-45)" text-anchor="end" font-size="4.8" font-weight="bold" fill="#555">2022-09</text><text x="0" y="0" transform="translate(892.30,727) rotate(-45)" text-anchor="end" font-size="4.8" font-weight="bold" fill="#555">2020-01</text><text x="0" y="0" transform="translate(908.28,727) rotate(-45)" text-anchor="end" font-size="4.8" font-weight="bold" fill="#555">2020-02</text><text x="0" y="0" transform="translate(924.26,727) rotate(-45)" text-anchor="end" font-size="4.8" font-weight="bold" fill="#555">2020-03</text><text x="0" y="0" transform="translate(940.24,727) rotate(-45)" text-anchor="end" font-size="4.8" font-weight="bold" fill="#555">2020-04</text><text x="0" y="0" transform="translate(956.22,727) rotate(-45)" text-anchor="end" font-size="4.8" font-weight="bold" fill="#555">2020-05</text><text x="0" y="0" transform="translate(972.20,727) rotate(-45)" text-anchor="end" font-size="4.8" font-weight="bold" fill="#555">2020-06</text><text x="0" y="0" transform="translate(988.18,727) rotate(-45)" text-anchor="end" font-size="4.8" font-weight="bold" fill="#555">2020-07</text><text x="0" y="0" transform="translate(1004.16,727) rotate(-45)" text-anchor="end" font-size="4.8" font-weight="bold" fill="#555">2020-08</text><text x="0" y="0" transform="translate(1020.14,727) rotate(-45)" text-anchor="end" font-size="4.8" font-weight="bold" fill="#555">2020-09</text><text x="0" y="0" transform="translate(1036.12,727) rotate(-45)" text-anchor="end" font-size="4.8" font-weight="bold" fill="#555">2020-10</text><text x="0" y="0" transform="translate(1052.10,727) rotate(-45)" text-anchor="end" font-size="4.8" font-weight="bold" fill="#555">2020-11</text><text x="0" y="0" transform="translate(1068.08,727) rotate(-45)" text-anchor="end" font-size="4.8" font-weight="bold" fill="#555">2020-12</text><text x="0" y="0" transform="translate(1084.06,727) rotate(-45)" text-anchor="end" font-size="4.8" font-weight="bold" fill="#555">2021-01</text><text x="0" y="0" transform="translate(1100.04,727) rotate(-45)" text-anchor="end" font-size="4.8" font-weight="bold" fill="#555">2021-02</text><text x="0" y="0" transform="translate(1116.02,727) rotate(-45)" text-anchor="end" font-size="4.8" font-weight="bold" fill="#555">2021-03</text><text x="0" y="0" transform="translate(1132.00,727) rotate(-45)" text-anchor="end" font-size="4.8" font-weight="bold" fill="#555">2021-04</text><text x="0" y="0" transform="translate(1147.98,727) rotate(-45)" text-anchor="end" font-size="4.8" font-weight="bold" fill="#555">2021-05</text><text x="0" y="0" transform="translate(1163.96,727) rotate(-45)" text-anchor="end" font-size="4.8" font-weight="bold" fill="#555">2021-06</text><text x="0" y="0" transform="translate(1179.94,727) rotate(-45)" text-anchor="end" font-size="4.8" font-weight="bold" fill="#555">2021-07</text><text x="0" y="0" transform="translate(1195.92,727) rotate(-45)" text-anchor="end" font-size="4.8" font-weight="bold" fill="#555">2021-08</text><text x="0" y="0" transform="translate(1211.90,727) rotate(-45)" text-anchor="end" font-size="4.8" font-weight="bold" fill="#555">2021-09</text><text x="0" y="0" transform="translate(1227.88,727) rotate(-45)" text-anchor="end" font-size="4.8" font-weight="bold" fill="#555">2021-10</text><text x="0" y="0" transform="translate(1243.86,727) rotate(-45)" text-anchor="end" font-size="4.8" font-weight="bold" fill="#555">2021-11</text><text x="0" y="0" transform="translate(1259.84,727) rotate(-45)" text-anchor="end" font-size="4.8" font-weight="bold" fill="#555">2021-12</text><text x="0" y="0" transform="translate(1275.82,727) rotate(-45)" text-anchor="end" font-size="4.8" font-weight="bold" fill="#555">2022-01</text><text x="0" y="0" transform="translate(1291.80,727) rotate(-45)" text-anchor="end" font-size="4.8" font-weight="bold" fill="#555">2022-02</text><text x="0" y="0" transform="translate(1307.78,727) rotate(-45)" text-anchor="end" font-size="4.8" font-weight="bold" fill="#555">2022-03</text><text x="0" y="0" transform="translate(1323.76,727) rotate(-45)" text-anchor="end" font-size="4.8" font-weight="bold" fill="#555">2022-04</text><text x="0" y="0" transform="translate(1339.74,727) rotate(-45)" text-anchor="end" font-size="4.8" font-weight="bold" fill="#555">2022-05</text><text x="0" y="0" transform="translate(1355.72,727) rotate(-45)" text-anchor="end" font-size="4.8" font-weight="bold" fill="#555">2022-06</text><text x="0" y="0" transform="translate(1371.70,727) rotate(-45)" text-anchor="end" font-size="4.8" font-weight="bold" fill="#555">2022-07</text><text x="0" y="0" transform="translate(1387.68,727) rotate(-45)" text-anchor="end" font-size="4.8" font-weight="bold" fill="#555">2022-08</text><text x="0" y="0" transform="translate(1403.66,727) rotate(-45)" text-anchor="end" font-size="4.8" font-weight="bold" fill="#555">2022-09</text><text x="240.5" y="721.6" text-anchor="end" font-size="4.6" font-weight="bold" fill="#666">0</text><text x="877" y="562.8000000000001" text-anchor="end" font-size="4.6" font-weight="bold" fill="#666">15.0%</text><text x="877" y="616.0" text-anchor="end" font-size="4.6" font-weight="bold" fill="#666">10.0%</text><text x="877" y="668.4" text-anchor="end" font-size="4.6" font-weight="bold" fill="#666">5.0%</text><text x="877" y="721.6" text-anchor="end" font-size="4.6" font-weight="bold" fill="#666">0.0%</text></svg>
<!-- stats block decorations -->
<div class="a" style="left:1050.3px;top:235px;width:2.2px;height:21px;background:#2b7cb4"></div>
<div class="a" style="left:1171px;top:235px;width:2.2px;height:21px;background:#3ea6dc"></div>
<div class="a" style="left:1290.3px;top:235px;width:2.2px;height:21px;background:#93d1f0"></div>
<div class="a" style="left:1044.5px;top:333.8px;width:363px;height:51.7px;background:#e2e3e5"></div>
<div class="a" style="left:1167.8px;top:333.8px;width:2px;height:51.7px;background:#fff"></div>
<div class="a" style="left:1289px;top:333.8px;width:2px;height:51.7px;background:#fff"></div>
<div class="a" style="left:1168.3px;top:385.5px;width:1px;height:50px;background:#e4e4e4"></div>
<div class="a" style="left:1289.5px;top:385.5px;width:1px;height:50px;background:#e4e4e4"></div>
<!-- legends squares -->
<div class="a" style="left:506.6px;top:226.8px;width:8.4px;height:8px;border-radius:1.5px;background:#2b7cb4"></div><div class="a" style="left:602px;top:226.8px;width:8.4px;height:8px;border-radius:1.5px;background:#3ea6dc"></div><div class="a" style="left:698px;top:226.8px;width:8.4px;height:8px;border-radius:1.5px;background:#93d1f0"></div><div class="a" style="left:378.4px;top:535px;width:8.4px;height:8px;border-radius:1.5px;background:#2b7cb4"></div><div class="a" style="left:474px;top:535px;width:8.4px;height:8px;border-radius:1.5px;background:#3ea6dc"></div><div class="a" style="left:570.7px;top:535px;width:8.4px;height:8px;border-radius:1.5px;background:#93d1f0"></div><div class="a" style="left:993.4px;top:535px;width:8.4px;height:8px;border-radius:1.5px;background:#2b7cb4"></div><div class="a" style="left:1089px;top:535px;width:8.4px;height:8px;border-radius:1.5px;background:#3ea6dc"></div><div class="a" style="left:1185.7px;top:535px;width:8.4px;height:8px;border-radius:1.5px;background:#93d1f0"></div>
<!-- bottom stats bars -->
<div class="a" style="left:392.9px;top:765.3px;width:3px;height:19.5px;border-radius:1.5px;background:#2b7cb4"></div><div class="a" style="left:515.8px;top:765.3px;width:3px;height:19.5px;border-radius:1.5px;background:#3ea6dc"></div><div class="a" style="left:639.3px;top:765.3px;width:3px;height:19.5px;border-radius:1.5px;background:#93d1f0"></div><div class="a" style="left:1035px;top:765.3px;width:3px;height:19.5px;border-radius:1.5px;background:#2b7cb4"></div><div class="a" style="left:1158.7px;top:765.3px;width:3px;height:19.5px;border-radius:1.5px;background:#3ea6dc"></div><div class="a" style="left:1282px;top:765.3px;width:3px;height:19.5px;border-radius:1.5px;background:#93d1f0"></div>
<!-- footer -->
<div class="a" style="left:79px;top:859.7px;width:114px;height:34.3px;background:#fff;border-radius:4px"></div>
<div id="title" class="t" style="left:80.31px;top:21.68px;font-size:44.91px;color:#fff;font-weight:bold;-webkit-text-stroke:0.3px currentColor;transform:scaleX(0.9420);">VÝVOJ TRHU S DOMY</div>
<div id="sub" class="t" style="left:542.73px;top:35.84px;font-size:25.58px;color:#fff;transform:scaleX(1.0827);">LEDEN 2020 - ZÁŘÍ 2022</div>
<div id="cela" class="t" style="left:1199.70px;top:20.94px;font-size:43.90px;color:#fff;-webkit-text-stroke:0.5px currentColor;transform:scaleX(1.0335);">Celá ČR</div>
<div id="pc" class="t" style="left:211.18px;top:116.05px;font-size:9.16px;color:#8a8a8a;transform:scaleX(1.0861);">PRŮMĚRNÁ CENA V ČR</div>
<div id="big" class="t" style="left:210.41px;top:137.01px;font-size:34.59px;color:#2d8bbd;font-weight:bold;-webkit-text-stroke:0.9px currentColor;transform:scaleX(1.1266);">43.000 Kč/m<span class="sup">2</span></div>
<div id="zc0" class="t" style="left:597.67px;top:115.88px;font-size:9.59px;color:#8a8a8a;transform:scaleX(1.0797);">ZMĚNA CENY ZA ROK 2020</div>
<div id="pc0" class="t" style="left:596.10px;top:140.63px;font-size:21.22px;color:#1e1e1e;font-weight:bold;-webkit-text-stroke:0.5px currentColor;transform:scaleX(1.0132);">+ 22.8 %</div>
<div id="pp0" class="t" style="left:686.22px;top:149.71px;font-size:10.50px;color:#555;transform:scaleX(1.2032);">(31.000 Kč/m²)</div>
<div id="zc1" class="t" style="left:800.67px;top:115.88px;font-size:9.59px;color:#8a8a8a;transform:scaleX(1.0805);">ZMĚNA CENY ZA ROK 2021</div>
<div id="pc1" class="t" style="left:799.10px;top:140.63px;font-size:21.22px;color:#1e1e1e;font-weight:bold;-webkit-text-stroke:0.5px currentColor;transform:scaleX(1.0132);">+ 20.2 %</div>
<div id="pp1" class="t" style="left:889.22px;top:149.71px;font-size:10.50px;color:#555;transform:scaleX(1.2032);">(37.900 Kč/m²)</div>
<div id="zc2" class="t" style="left:1010.67px;top:115.88px;font-size:9.59px;color:#8a8a8a;transform:scaleX(1.0807);">ZMĚNA CENY ZA ROK 2022</div>
<div id="pc2" class="t" style="left:1009.14px;top:140.63px;font-size:21.22px;color:#1e1e1e;font-weight:bold;-webkit-text-stroke:0.5px currentColor;transform:scaleX(0.9649);">+ 13.3 %</div>
<div id="pp2" class="t" style="left:1095.20px;top:149.71px;font-size:10.50px;color:#555;transform:scaleX(1.2326);">(43.000 Kč/m²)</div>
<div id="note1" class="t" style="left:596.15px;top:176.41px;font-size:9.20px;color:#3a3a3a;transform:scaleX(1.1232);">Růst cen v daném kalendářním roce (leden - prosinec). Pro rok 2022 je porovnání leden - září</div>
<div id="zp1" class="t" style="left:1209.38px;top:116.05px;font-size:9.16px;color:#8a8a8a;transform:scaleX(1.0970);">ZMĚNA POČTU NABÍDEK</div>
<div id="zp2" class="t" style="left:1209.38px;top:127.29px;font-size:8.87px;color:#8a8a8a;transform:scaleX(1.1337);">ZA POSLEDNÍ ROK</div>
<div id="p639" class="t" style="left:1207.08px;top:142.18px;font-size:19.04px;color:#2d8bbd;font-weight:bold;-webkit-text-stroke:0.6px currentColor;transform:scaleX(1.1566);">+ 63.9 %</div>
<div id="porov" class="t" style="left:1205.14px;top:176.41px;font-size:9.20px;color:#3a3a3a;transform:scaleX(1.1428);">Porovnání období 9/2021 - 9/2022</div>
<div id="cena" class="t" style="left:233.36px;top:228.56px;font-size:8.20px;color:#333;transform:scaleX(1.2501);">cena za m²</div>
<div id="y60000" class="t" style="left:244.04px;top:240.81px;font-size:6.60px;color:#555;font-weight:bold;transform:scaleX(1.0936);">60000</div>
<div id="y40000" class="t" style="left:244.19px;top:312.81px;font-size:6.60px;color:#555;font-weight:bold;transform:scaleX(1.0850);">40000</div>
<div id="y20000" class="t" style="left:244.05px;top:384.81px;font-size:6.60px;color:#555;font-weight:bold;transform:scaleX(1.0928);">20000</div>
<div id="y0" class="t" style="left:259.50px;top:456.81px;font-size:6.60px;color:#555;font-weight:bold;">0</div>
<div id="lg1_0" class="t" style="left:521.93px;top:224.80px;font-size:12.40px;color:#555;transform:scaleX(1.0901);">do 150 m²</div>
<div id="lg1_1" class="t" style="left:617.02px;top:224.80px;font-size:12.40px;color:#555;transform:scaleX(1.0424);">151 - 250 m²</div>
<div id="lg1_2" class="t" style="left:713.30px;top:224.80px;font-size:12.40px;color:#555;transform:scaleX(1.1241);">251 - 400 m²</div>
<div id="sl0" class="t" style="left:1059.51px;top:237.23px;font-size:10.60px;color:#9a9a9a;transform:scaleX(1.1431);">DO 150 M²</div>
<div id="sv0" class="t" style="left:1058.14px;top:256.82px;font-size:20.06px;color:#2b7cb4;font-weight:bold;-webkit-text-stroke:0.6px currentColor;transform:scaleX(0.9966);">51 200 Kč</div>
<div id="sp0" class="t" style="left:1059.77px;top:278.01px;font-size:15.70px;color:#333;-webkit-text-stroke:0.35px currentColor;transform:scaleX(0.9503);">+ 12.2 %</div>
<div id="sl1" class="t" style="left:1180.08px;top:237.23px;font-size:10.60px;color:#9a9a9a;transform:scaleX(1.1346);">151 - 250 M²</div>
<div id="sv1" class="t" style="left:1178.27px;top:256.82px;font-size:20.06px;color:#3ea6dc;font-weight:bold;-webkit-text-stroke:0.6px currentColor;transform:scaleX(1.0496);">38 400 Kč</div>
<div id="sp1" class="t" style="left:1180.27px;top:278.01px;font-size:15.70px;color:#333;-webkit-text-stroke:0.35px currentColor;transform:scaleX(0.9503);">+ 12.3 %</div>
<div id="sl2" class="t" style="left:1299.37px;top:237.23px;font-size:10.60px;color:#9a9a9a;transform:scaleX(1.1799);">251 - 400 M²</div>
<div id="sv2" class="t" style="left:1296.78px;top:256.82px;font-size:20.06px;color:#93d1f0;font-weight:bold;-webkit-text-stroke:0.6px currentColor;transform:scaleX(1.0413);">28 700 Kč</div>
<div id="sp2" class="t" style="left:1299.27px;top:278.01px;font-size:15.70px;color:#333;-webkit-text-stroke:0.35px currentColor;transform:scaleX(0.9503);">+ 13.8 %</div>
<div id="rv00" class="t" style="left:1059.24px;top:345.69px;font-size:14.53px;color:#1e1e1e;font-weight:bold;-webkit-text-stroke:0.3px currentColor;transform:scaleX(1.1830);">45 600 Kč</div>
<div id="rp00" class="t" style="left:1059.39px;top:364.86px;font-size:13.52px;color:#7a7a7a;transform:scaleX(0.9260);">+ 21.2 %</div>
<div id="rv01" class="t" style="left:1179.61px;top:345.69px;font-size:14.53px;color:#1e1e1e;font-weight:bold;-webkit-text-stroke:0.3px currentColor;transform:scaleX(1.1775);">34 200 Kč</div>
<div id="rp01" class="t" style="left:1179.89px;top:364.86px;font-size:13.52px;color:#7a7a7a;transform:scaleX(0.9260);">+ 21.5 %</div>
<div id="rv02" class="t" style="left:1298.16px;top:345.69px;font-size:14.53px;color:#1e1e1e;font-weight:bold;-webkit-text-stroke:0.3px currentColor;transform:scaleX(1.1654);">25 200 Kč</div>
<div id="rp02" class="t" style="left:1298.64px;top:364.86px;font-size:13.52px;color:#7a7a7a;transform:scaleX(0.9317);">+ 16.2 %</div>
<div id="rv10" class="t" style="left:1059.10px;top:397.19px;font-size:14.53px;color:#1e1e1e;font-weight:bold;-webkit-text-stroke:0.3px currentColor;transform:scaleX(1.1851);">37 600 Kč</div>
<div id="rp10" class="t" style="left:1059.39px;top:414.86px;font-size:13.52px;color:#7a7a7a;transform:scaleX(0.9260);">+ 22.4 %</div>
<div id="rv11" class="t" style="left:1179.41px;top:397.19px;font-size:14.53px;color:#1e1e1e;font-weight:bold;-webkit-text-stroke:0.3px currentColor;transform:scaleX(1.1806);">28 100 Kč</div>
<div id="rp11" class="t" style="left:1179.89px;top:414.86px;font-size:13.52px;color:#7a7a7a;transform:scaleX(0.9260);">+ 22.5 %</div>
<div id="rv12" class="t" style="left:1298.16px;top:397.19px;font-size:14.53px;color:#1e1e1e;font-weight:bold;-webkit-text-stroke:0.3px currentColor;transform:scaleX(1.1654);">21 700 Kč</div>
<div id="rp12" class="t" style="left:1298.64px;top:414.86px;font-size:13.52px;color:#7a7a7a;transform:scaleX(0.9317);">+ 24.3 %</div>
<div id="fn1" class="t" style="left:1025.86px;top:449.17px;font-size:12.79px;color:#505050;transform:scaleX(1.0835);">Růst cen v daném kalendářním roce (leden - prosinec).</div>
<div id="fn2" class="t" style="left:1025.87px;top:464.17px;font-size:12.79px;color:#505050;transform:scaleX(1.0792);">Pro rok 2022 je porovnání leden - září.</div>
<div id="lgA0" class="t" style="left:394.73px;top:532.50px;font-size:12.40px;color:#555;transform:scaleX(1.0901);">do 150 m²</div>
<div id="lgA1" class="t" style="left:490.02px;top:532.50px;font-size:12.40px;color:#555;transform:scaleX(1.0424);">151 - 250 m²</div>
<div id="lgA2" class="t" style="left:585.00px;top:532.50px;font-size:12.40px;color:#555;transform:scaleX(1.1241);">251 - 400 m²</div>
<div id="lgB0" class="t" style="left:1009.73px;top:532.50px;font-size:12.40px;color:#555;transform:scaleX(1.0901);">do 150 m²</div>
<div id="lgB1" class="t" style="left:1105.02px;top:532.50px;font-size:12.40px;color:#555;transform:scaleX(1.0424);">151 - 250 m²</div>
<div id="lgB2" class="t" style="left:1200.00px;top:532.50px;font-size:12.40px;color:#555;transform:scaleX(1.1241);">251 - 400 m²</div>
<div id="bsAl1" class="t" style="left:242.68px;top:766.13px;font-size:10.00px;color:#55a6d0;transform:scaleX(1.0044);">ZMĚNA POČTU NABÍDEK</div>
<div id="bsAl2" class="t" style="left:242.68px;top:777.43px;font-size:10.00px;color:#55a6d0;transform:scaleX(1.0044);">ZA POSLEDNÍ ROK</div>
<div id="bsAl3" class="t" style="left:242.49px;top:787.83px;font-size:10.00px;color:#55a6d0;transform:scaleX(1.0855);">9/2021 - 9/2022</div>
<div id="bsBl1" class="t" style="left:886.18px;top:766.13px;font-size:10.00px;color:#55a6d0;transform:scaleX(0.9928);">ZMĚNA POČTU SLEV</div>
<div id="bsBl2" class="t" style="left:886.18px;top:777.43px;font-size:10.00px;color:#55a6d0;transform:scaleX(1.0044);">ZA POSLEDNÍ ROK</div>
<div id="bsBl3" class="t" style="left:885.99px;top:787.83px;font-size:10.00px;color:#55a6d0;transform:scaleX(1.0855);">9/2021 - 9/2022</div>
<div id="bsAd0" class="t" style="left:401.11px;top:768.12px;font-size:8.60px;color:#9a9a9a;transform:scaleX(1.2633);">DO 150 M²</div>
<div id="bsAn0" class="t" style="left:399.90px;top:781.53px;font-size:18.75px;color:#1e1e1e;font-weight:bold;-webkit-text-stroke:0.6px currentColor;transform:scaleX(1.1465);">+ 69.3 %</div>
<div id="bsAd1" class="t" style="left:524.22px;top:768.12px;font-size:8.60px;color:#9a9a9a;transform:scaleX(1.1896);">151 - 250 M²</div>
<div id="bsAn1" class="t" style="left:522.89px;top:781.53px;font-size:18.75px;color:#1e1e1e;font-weight:bold;-webkit-text-stroke:0.6px currentColor;transform:scaleX(1.1602);">+ 69.8 %</div>
<div id="bsAd2" class="t" style="left:647.28px;top:768.12px;font-size:8.60px;color:#9a9a9a;transform:scaleX(1.2049);">251 - 400 M²</div>
<div id="bsAn2" class="t" style="left:645.72px;top:781.53px;font-size:18.75px;color:#1e1e1e;font-weight:bold;-webkit-text-stroke:0.6px currentColor;transform:scaleX(1.1192);">+ 37.9 %</div>
<div id="bsBd0" class="t" style="left:1043.11px;top:768.12px;font-size:8.60px;color:#9a9a9a;transform:scaleX(1.2633);">DO 150 M²</div>
<div id="bsBn0" class="t" style="left:1042.17px;top:781.53px;font-size:18.75px;color:#1e1e1e;font-weight:bold;-webkit-text-stroke:0.6px currentColor;transform:scaleX(1.0505);">+ 115 %</div>
<div id="bsBd1" class="t" style="left:1166.82px;top:768.12px;font-size:8.60px;color:#9a9a9a;transform:scaleX(1.1896);">151 - 250 M²</div>
<div id="bsBn1" class="t" style="left:1165.78px;top:781.53px;font-size:18.75px;color:#1e1e1e;font-weight:bold;-webkit-text-stroke:0.6px currentColor;transform:scaleX(1.0371);">+ 117 %</div>
<div id="bsBd2" class="t" style="left:1290.48px;top:768.12px;font-size:8.60px;color:#9a9a9a;transform:scaleX(1.2049);">251 - 400 M²</div>
<div id="bsBn2" class="t" style="left:1289.11px;top:781.53px;font-size:18.75px;color:#1e1e1e;font-weight:bold;-webkit-text-stroke:0.6px currentColor;transform:scaleX(1.1349);">+ 83 %</div>
<div id="real" class="t" style="left:77.78px;top:831.45px;font-size:24.27px;color:#fff;font-weight:bold;-webkit-text-stroke:0.6px currentColor;transform:scaleX(0.9386);">REALIŤÁK</div>
<div id="zprac" class="t" style="left:737.54px;top:848.91px;font-size:25.50px;color:#fff;transform:scaleX(1.1660);">zpracovatel dat:</div>
<div id="vespol" class="t" style="left:1199.50px;top:849.77px;font-size:26.50px;color:#fff;transform:scaleX(1.0880);">ve spolupráci s:</div>
<div id="rokuR" class="t" style="left:89.96px;top:864.01px;font-size:25.15px;color:#c51f4e;font-weight:bold;-webkit-text-stroke:0.8px currentColor;transform:scaleX(0.7958);">R</div>
<div id="rokuO" class="t" style="left:115.01px;top:864.01px;font-size:25.15px;color:#c51f4e;font-weight:bold;-webkit-text-stroke:0.8px currentColor;transform:scaleX(0.9556);">O</div>
<div id="rokuK" class="t" style="left:140.48px;top:864.01px;font-size:25.15px;color:#c51f4e;font-weight:bold;-webkit-text-stroke:0.8px currentColor;transform:scaleX(0.9051);">K</div>
<div id="rokuU" class="t" style="left:165.24px;top:864.01px;font-size:25.15px;color:#c51f4e;font-weight:bold;-webkit-text-stroke:0.8px currentColor;transform:scaleX(0.9662);">U</div>
<div id="cemap" class="t" style="left:955.68px;top:831.29px;font-size:49.85px;color:#fff;font-weight:bold;-webkit-text-stroke:1.0px currentColor;transform:scaleX(0.9858);">CeM&#593;</div>
<div id="cenove" class="t" style="left:991.44px;top:873.56px;font-size:13.40px;color:#fff;transform:scaleX(1.1637);">cenové mapy</div>
<div id="reality" class="t" style="left:1422.21px;top:849.51px;font-size:30.70px;color:#fff;font-weight:bold;-webkit-text-stroke:0.3px currentColor;transform:scaleX(1.0812);font-style:italic;">reality</div>
<div id="idnes" class="t" style="left:1446.29px;top:876.07px;font-size:14.68px;color:#fff;font-weight:bold;-webkit-text-stroke:0.2px currentColor;transform:scaleX(0.7890);font-style:italic;">iDNES.cz</div>
<div id="r1" class="t rot" style="left:189.68px;top:450.80px;font-size:20.93px;color:#c6c6c6;font-weight:bold;;-webkit-text-stroke:0.55px currentColor;transform:rotate(-90deg) scaleX(1.0791)">VÝVOJ CENY V ČR</div><div id="r2" class="t rot" style="left:184.63px;top:805.00px;font-size:25.00px;color:#c6c6c6;font-weight:bold;;-webkit-text-stroke:0.55px currentColor;transform:rotate(-90deg) scaleX(1.0282)">VELIKOST NABÍDKY</div><div id="r3" class="t rot" style="left:805.44px;top:805.00px;font-size:23.69px;color:#c6c6c6;font-weight:bold;;-webkit-text-stroke:0.55px currentColor;transform:rotate(-90deg) scaleX(1.0838)">POMĚR ZLEVNĚNÝCH</div><div id="r4" class="t rot" style="left:834.53px;top:805.00px;font-size:25.00px;color:#c6c6c6;font-weight:bold;;-webkit-text-stroke:0.55px currentColor;transform:rotate(-90deg) scaleX(1.0359)">NABÍDEK</div><div id="y22" class="t rot" style="left:1025.70px;top:277.50px;font-size:11.34px;color:#b4b4b4;font-weight:bold;;transform:rotate(-90deg) scaleX(1.1427)">2022</div><div id="y21" class="t rot" style="left:1025.70px;top:372.50px;font-size:11.34px;color:#b4b4b4;font-weight:bold;;transform:rotate(-90deg) scaleX(0.9919)">2021</div><div id="y20" class="t rot" style="left:1025.70px;top:424.50px;font-size:11.34px;color:#b4b4b4;font-weight:bold;;transform:rotate(-90deg) scaleX(1.1705)">2020</div>

<svg class="a" style="left:0;top:0" width="1600" height="900" viewBox="0 0 1600 900">
  <path fill="#fff" fill-rule="evenodd" d="M1102.8 846.2 A12.6 12.6 0 1 1 1102.8 871.4 A12.6 12.6 0 1 1 1102.8 846.2 Z M1102.8 852.6 A6.2 6.2 0 1 0 1102.8 865.0 A6.2 6.2 0 1 0 1102.8 852.6 Z"/>
  <path fill="#fff" d="M1090.6 861 L1101.2 884.6 Q1102.6 886.6 1104 884.6 L1101.5 871.2 Z"/>
  <path d="M1411.4 856.4 L1441.4 835.9 L1471.5 852.4" stroke="#fff" stroke-width="3.6" fill="none" stroke-linejoin="round" stroke-linecap="round"/>
  <path d="M1411.4 856.4 L1420.6 856.4 L1415.6 883.6 L1438.2 883.2" stroke="#fff" stroke-width="3.4" fill="none" stroke-linejoin="round" stroke-linecap="round"/>
</svg>

</body></html>
